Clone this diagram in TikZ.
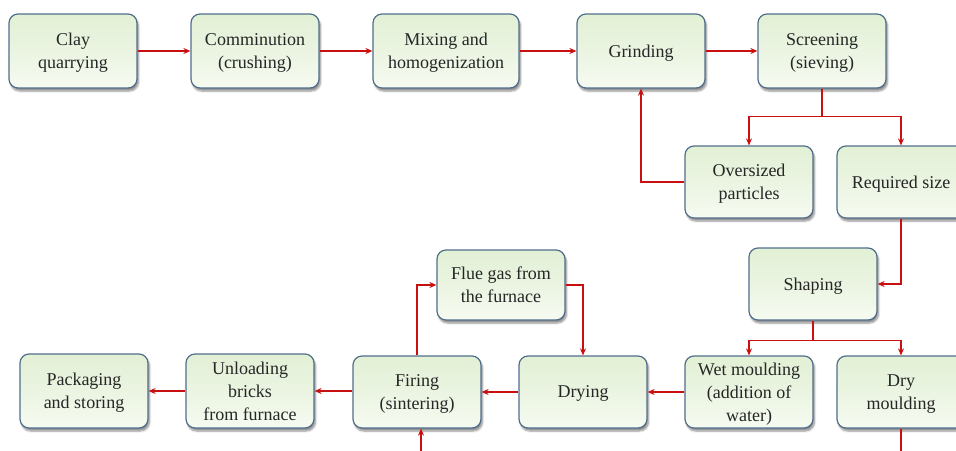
\documentclass[tikz,border=0pt]{standalone}
\usepackage{fontspec}
\setmainfont{Liberation Serif}
\usetikzlibrary{shadows.blur,arrows.meta,calc}
\definecolor{boxline}{RGB}{80,110,140}
\definecolor{boxtop}{RGB}{226,240,213}
\definecolor{boxbot}{RGB}{246,251,241}
\definecolor{arrowred}{RGB}{200,16,16}
\tikzset{
  procbox/.style={draw=boxline, line width=1.2pt, rounded corners=9pt,
    top color=boxtop, bottom color=boxbot, middle color=boxtop!70!white,
    minimum width=128pt, minimum height=72pt, align=center, inner sep=2pt,
    text depth=0pt,
    text=black!85, font=\fontsize{18}{23}\selectfont,
    blur shadow={shadow xshift=1.5pt, shadow yshift=-3pt, shadow blur steps=6, shadow opacity=45}},
  flow/.style={draw=arrowred, line width=1.3pt, -{Stealth[length=7pt,width=6pt]}},
  flowline/.style={draw=arrowred, line width=1.3pt}
}
\begin{document}
\begin{tikzpicture}[x=1pt,y=-1pt]
\useasboundingbox (0,0) rectangle (956,450);
\clip (0,0) rectangle (956,450);
% row 1
\node[procbox, minimum height=74pt] (clay) at (73,51) {Clay\\quarrying};
\node[procbox, minimum height=74pt] (comm) at (255,51) {Comminution\\(crushing)};
\node[procbox, minimum height=74pt, minimum width=146pt] (mix) at (446,51) {Mixing and\\homogenization};
\node[procbox, minimum height=74pt] (grind) at (641,51) {Grinding};
\node[procbox, minimum height=74pt] (scr) at (822,51) {Screening\\(sieving)};
% row 2
\node[procbox] (over) at (749,182) {Oversized\\particles};
\node[procbox] (req) at (901,182) {Required size};
% shaping and flue gas
\node[procbox] (shape) at (813,284) {Shaping};
\node[procbox, minimum height=70pt] (flue) at (501,285) {Flue gas from\\the furnace};
% row 3
\node[procbox] (wet) at (749,392) {Wet moulding\\(addition of\\water)};
\node[procbox] (dry) at (901,392) {Dry\\moulding};
\node[procbox] (drying) at (583,392) {Drying};
\node[procbox] (fire) at (417,392) {Firing\\(sintering)};
\node[procbox, minimum height=74pt] (unload) at (250,391) {Unloading\\bricks\\from furnace};
\node[procbox, minimum height=74pt] (pack) at (84,391) {Packaging\\and storing};
% arrows row 1
\draw[flow] (clay) -- (comm);
\draw[flow] (comm) -- (mix);
\draw[flow] (mix) -- (grind);
\draw[flow] (grind) -- (scr);
% screening split
\draw[flowline] (scr.south) -- ++(0,28) coordinate (s1);
\draw[flow] (s1) -| (over.north);
\draw[flow] (s1) -| (req.north);
% oversized back to grinding
\draw[flow] (over.west) -| (grind.south);
% required size to shaping
\draw[flow] (req.south) |- (shape.east);
% shaping split
\draw[flowline] (shape.south) -- ++(0,20) coordinate (s2);
\draw[flow] (s2) -| (wet.north);
\draw[flow] (s2) -| (dry.north);
% row 3
\draw[flow] (wet.west) -- (drying.east);
\draw[flow] (drying.west) -- (fire.east);
\draw[flow] (fire.west |- unload.east) -- (unload.east);
\draw[flow] (unload.west) -- (pack.east);
% flue gas loop
\draw[flow] (fire.north) |- (flue.west);
\draw[flow] (flue.east) -| (drying.north);
% dry moulding to firing (continues below the visible area)
\coordinate (low) at (901,475);
\draw[flow] (dry.south) -- (low) -| ([xshift=4pt]fire.south);
\end{tikzpicture}
\end{document}
